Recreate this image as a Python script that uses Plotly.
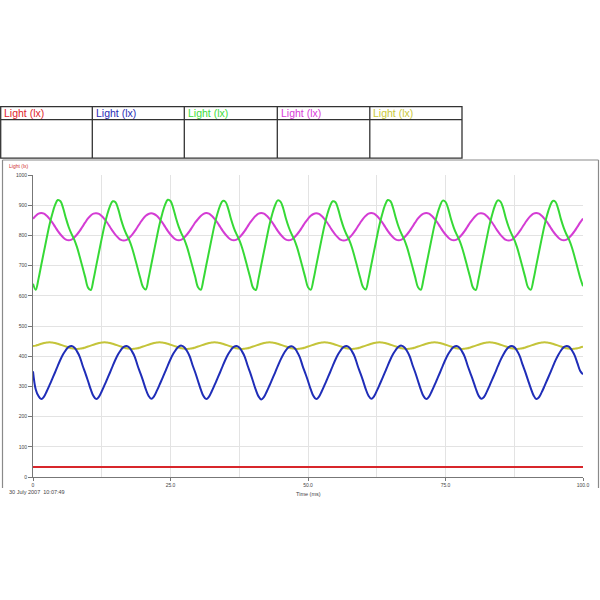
import plotly.graph_objects as go

# ---------------- data ----------------
time_ms = [i * 0.5 for i in range(201)]

green = [
    640, 620, 656, 702, 747, 792, 835, 871, 900, 917, 913, 889, 856, 827, 805, 786, 761, 729, 695, 661,
    627, 619, 654, 700, 745, 790, 833, 869, 897, 913, 910, 887, 853, 825, 803, 784, 759, 727, 693, 659,
    629, 621, 657, 703, 748, 793, 836, 872, 901, 918, 914, 890, 857, 828, 806, 787, 762, 730, 696, 662,
    628, 620, 655, 701, 746, 791, 834, 870, 898, 914, 911, 888, 854, 826, 804, 785, 760, 728, 694, 660,
    627, 619, 656, 702, 747, 792, 835, 871, 899, 916, 912, 889, 855, 827, 805, 786, 761, 729, 695, 661,
    628, 620, 654, 700, 745, 790, 833, 869, 897, 913, 910, 886, 853, 825, 803, 784, 759, 727, 693, 659,
    629, 621, 656, 702, 747, 792, 835, 871, 900, 917, 913, 889, 856, 827, 805, 786, 761, 729, 695, 661,
    628, 620, 655, 701, 746, 791, 834, 870, 898, 915, 911, 888, 854, 826, 804, 785, 760, 728, 694, 660,
    627, 619, 655, 701, 746, 791, 834, 870, 899, 916, 912, 889, 855, 827, 805, 786, 761, 729, 695, 661,
    628, 620, 654, 700, 745, 790, 833, 869, 897, 914, 911, 887, 853, 825, 803, 784, 759, 727, 693, 659,
    632,
]

magenta = [
    855, 865, 872, 874, 872, 865, 855, 843, 829, 815, 803, 793, 786, 784, 786, 793, 803, 815, 829, 843,
    856, 866, 872, 873, 871, 864, 854, 842, 828, 814, 802, 792, 785, 783, 785, 792, 802, 814, 828, 842,
    855, 865, 871, 873, 871, 865, 855, 843, 829, 815, 803, 793, 786, 784, 786, 793, 803, 815, 829, 843,
    854, 864, 871, 874, 872, 865, 855, 843, 829, 815, 803, 793, 786, 784, 786, 793, 803, 815, 829, 843,
    855, 865, 872, 874, 872, 865, 855, 843, 829, 815, 803, 793, 786, 784, 786, 793, 803, 815, 829, 843,
    855, 865, 871, 873, 871, 864, 854, 842, 828, 814, 802, 792, 785, 783, 785, 792, 802, 814, 828, 842,
    855, 865, 872, 874, 872, 865, 855, 843, 829, 815, 803, 793, 786, 784, 786, 793, 803, 815, 829, 843,
    856, 866, 872, 874, 872, 865, 855, 843, 829, 815, 803, 793, 786, 784, 786, 793, 803, 815, 829, 843,
    855, 865, 872, 873, 871, 864, 854, 842, 828, 814, 802, 792, 785, 783, 785, 792, 802, 814, 828, 842,
    855, 865, 872, 874, 872, 865, 855, 843, 829, 815, 803, 793, 786, 784, 786, 793, 803, 815, 829, 843,
    856,
]

blue = [
    350, 290, 268, 258, 266, 284, 304, 325, 346, 368, 389, 407, 421, 431, 434, 429, 416, 398, 370, 345,
    318, 290, 268, 258, 266, 284, 304, 325, 346, 368, 389, 407, 421, 431, 434, 429, 416, 398, 370, 345,
    319, 291, 269, 259, 267, 285, 305, 326, 347, 369, 390, 408, 422, 432, 435, 430, 417, 399, 371, 346,
    318, 290, 268, 258, 266, 284, 304, 325, 346, 368, 389, 407, 421, 431, 434, 429, 416, 398, 370, 345,
    317, 289, 267, 257, 265, 283, 303, 324, 345, 367, 388, 406, 420, 430, 433, 428, 415, 397, 369, 344,
    318, 290, 268, 258, 266, 284, 304, 325, 346, 368, 389, 407, 421, 431, 434, 429, 416, 398, 370, 345,
    319, 291, 269, 259, 267, 285, 305, 326, 347, 369, 390, 408, 422, 432, 435, 430, 417, 399, 371, 346,
    318, 290, 268, 258, 266, 284, 304, 325, 346, 368, 389, 407, 421, 431, 434, 429, 416, 398, 370, 345,
    320, 293, 270, 259, 265, 282, 302, 323, 344, 366, 387, 405, 420, 430, 434, 430, 418, 400, 373, 348,
    321, 294, 271, 258, 264, 281, 301, 322, 343, 365, 386, 404, 419, 430, 434, 431, 419, 402, 376, 351,
    340,
]

yellow = [
    434, 435, 438, 441, 444, 445, 446, 445, 444, 441, 438, 435, 432, 429, 426, 425, 424, 425, 426, 429,
    432, 435, 438, 441, 444, 445, 446, 445, 444, 441, 438, 435, 432, 429, 426, 425, 424, 425, 426, 429,
    432, 435, 438, 441, 444, 445, 446, 445, 444, 441, 438, 435, 432, 429, 426, 425, 424, 425, 426, 429,
    432, 435, 438, 441, 444, 445, 446, 445, 444, 441, 438, 435, 432, 429, 426, 425, 424, 425, 426, 429,
    432, 435, 438, 441, 444, 445, 446, 445, 444, 441, 438, 435, 432, 429, 426, 425, 424, 425, 426, 429,
    432, 435, 438, 441, 444, 445, 446, 445, 444, 441, 438, 435, 432, 429, 426, 425, 424, 425, 426, 429,
    432, 435, 438, 441, 444, 445, 446, 445, 444, 441, 438, 435, 432, 429, 426, 425, 424, 425, 426, 429,
    432, 435, 438, 441, 444, 445, 446, 445, 444, 441, 438, 435, 432, 429, 426, 425, 424, 425, 426, 429,
    432, 435, 438, 441, 444, 445, 446, 445, 444, 441, 438, 435, 432, 429, 426, 425, 424, 425, 426, 429,
    432, 435, 438, 441, 444, 445, 446, 445, 444, 441, 438, 435, 432, 429, 426, 425, 424, 425, 426, 429,
    431,
]

red_time = [0, 100]
red = [33, 33]

x_tick_vals = [0, 25, 50, 75, 100]
x_tick_text = ["0", "25.0", "50.0", "75.0", "100.0"]
y_tick_vals = [0, 100, 200, 300, 400, 500, 600, 700, 800, 900, 1000]

channel_labels = ["Light (lx)", "Light (lx)", "Light (lx)", "Light (lx)", "Light (lx)"]
channel_colors = ["#e0252d", "#2a2db5", "#3ddc3d", "#d93dd9", "#c9c93a"]
date_text = "30 July 2007  10:07:49"

# ---------------- figure ----------------
W, H = 600, 596
L, R, T, B = 33, 583, 174.5, 477


def px(x):
    return (x - L) / (R - L)


def py(y):
    return (B - y) / (B - T)


FONT = "Liberation Sans, Arial, sans-serif"

fig = go.Figure()
fig.add_trace(go.Scatter(x=red_time, y=red, mode="lines",
                         line=dict(color="#d8262b", width=2), showlegend=False))
fig.add_trace(go.Scatter(x=time_ms, y=yellow, mode="lines", line_shape="spline",
                         line=dict(color="#c4c43a", width=2), showlegend=False))
fig.add_trace(go.Scatter(x=time_ms, y=blue, mode="lines", line_shape="spline",
                         line=dict(color="#1f2db8", width=2), showlegend=False))
fig.add_trace(go.Scatter(x=time_ms, y=magenta, mode="lines", line_shape="spline",
                         line=dict(color="#d43cd4", width=2), showlegend=False))
fig.add_trace(go.Scatter(x=time_ms, y=green, mode="lines", line_shape="spline",
                         line=dict(color="#36d936", width=2), showlegend=False))

shapes = []
line_dark = dict(color="#333333", width=1.3)
# table
shapes.append(dict(type="rect", xref="paper", yref="paper",
                   x0=px(0.7), x1=px(462), y0=py(106), y1=py(157.5), line=line_dark))
shapes.append(dict(type="line", xref="paper", yref="paper",
                   x0=px(0.7), x1=px(462), y0=py(119), y1=py(119), line=line_dark))
for cx in [92.3, 184.3, 277.3, 369.8]:
    shapes.append(dict(type="line", xref="paper", yref="paper",
                       x0=px(cx), x1=px(cx), y0=py(106), y1=py(157.5), line=line_dark))
# panel frame
frame = dict(color="#8a8a8a", width=1.2)
shapes.append(dict(type="line", xref="paper", yref="paper",
                   x0=px(2.5), x1=px(598.5), y0=py(159.5), y1=py(159.5), line=frame))
shapes.append(dict(type="line", xref="paper", yref="paper",
                   x0=px(2.5), x1=px(2.5), y0=py(159.5), y1=py(488), line=frame))
shapes.append(dict(type="line", xref="paper", yref="paper",
                   x0=px(598.5), x1=px(598.5), y0=py(159.5), y1=py(488), line=frame))

annotations = []
col_x = [0.5, 92.3, 184.3, 277.3, 369.8]
for cx, lab, col in zip(col_x, channel_labels, channel_colors):
    annotations.append(dict(xref="paper", yref="paper", x=px(cx + 1.5), y=py(112.5),
                            text=lab, showarrow=False, xanchor="left", yanchor="middle",
                            font=dict(family=FONT, size=10.5, color=col)))
annotations.append(dict(xref="paper", yref="paper", x=px(6.5), y=py(165),
                        text="Light (lx)", showarrow=False, xanchor="left", yanchor="middle",
                        font=dict(family=FONT, size=5, color="#d03030")))
annotations.append(dict(xref="paper", yref="paper", x=px(7), y=py(492.5),
                        text=date_text, showarrow=False, xanchor="left", yanchor="middle",
                        font=dict(family=FONT, size=5.5, color="#444444")))
annotations.append(dict(xref="paper", yref="paper", x=px(308), y=py(494),
                        text="Time (ms)", showarrow=False, xanchor="center", yanchor="middle",
                        font=dict(family=FONT, size=5.5, color="#444444")))

fig.update_layout(
    width=W, height=H,
    margin=dict(l=L, r=W - R, t=T, b=H - B, pad=0),
    paper_bgcolor="white", plot_bgcolor="white",
    shapes=shapes, annotations=annotations,
    font=dict(family=FONT, size=5, color="#444444"),
    xaxis=dict(range=[0, 100], tickvals=x_tick_vals, ticktext=x_tick_text,
               showgrid=True, gridcolor="#e3e3e3", gridwidth=1,
               minor=dict(dtick=12.5, showgrid=True, gridcolor="#e3e3e3", gridwidth=1),
               showline=True, linecolor="#777777", linewidth=1,
               ticks="outside", ticklen=3, tickcolor="#777777",
               tickfont=dict(family=FONT, size=5, color="#444444"), zeroline=False),
    yaxis=dict(range=[0, 1000], tickvals=y_tick_vals,
               showgrid=True, gridcolor="#e3e3e3", gridwidth=1,
               showline=True, linecolor="#777777", linewidth=1,
               ticks="outside", ticklen=4, tickcolor="#777777",
               tickfont=dict(family=FONT, size=5, color="#444444"), zeroline=False),
)

fig.write_html(
    "out.html",
    config={"displayModeBar": False},
    post_script=("document.documentElement.style.overflow='hidden';"
                 "document.body.style.margin='0';document.body.style.overflow='hidden';"),
)
